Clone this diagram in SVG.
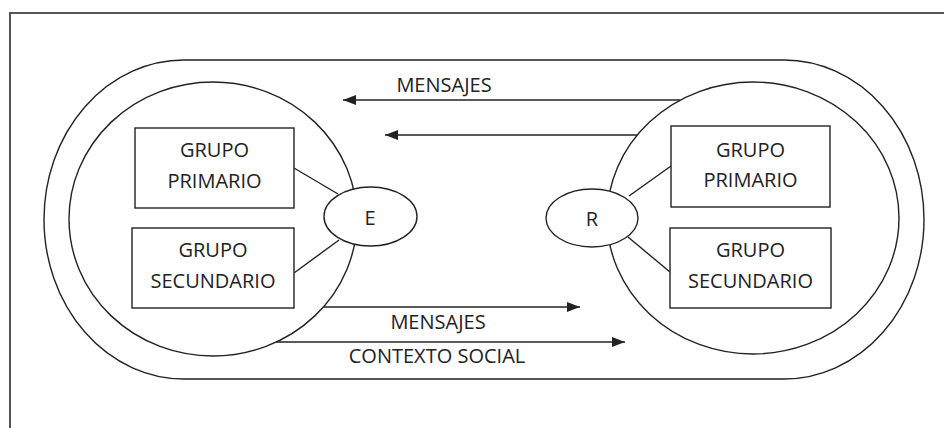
<svg xmlns="http://www.w3.org/2000/svg" width="944" height="428" viewBox="0 0 944 428">
<defs>
<style>
.ln{fill:none;stroke:#222;stroke-width:1.4}
.nd{fill:#fff;stroke:#222;stroke-width:1.4}
.tx{font-family:"Open Sans","Liberation Sans",sans-serif;font-size:20px;fill:#222;text-anchor:middle}
</style>
<marker id="ah" viewBox="0 0 13 10" refX="13" refY="5" markerWidth="13" markerHeight="10" markerUnits="userSpaceOnUse" orient="auto">
<path d="M0,0 L13,5 L0,10 Z" fill="#222"/>
</marker>
</defs>
<rect width="944" height="428" fill="#fff"/>
<path d="M10,428 V13 H944" fill="none" stroke="#555" stroke-width="2"/>
<g id="contexto">
<rect class="ln" x="44" y="60" width="880" height="319" rx="140" ry="159.5"/>
</g>
<g id="emisor-grupo">
<ellipse class="ln" cx="213" cy="219" rx="144" ry="137"/>
</g>
<g id="receptor-grupo">
<ellipse class="ln" cx="753" cy="218" rx="146" ry="136"/>
</g>
<g id="connectors">
<line class="ln" x1="294" y1="168" x2="338" y2="194"/>
<line class="ln" x1="294" y1="273" x2="339" y2="240"/>
<line class="ln" x1="671" y1="166" x2="629" y2="196"/>
<line class="ln" x1="628" y1="237" x2="670" y2="272"/>
<line class="ln" x1="680" y1="100" x2="343" y2="100" marker-end="url(#ah)"/>
<line class="ln" x1="637" y1="135" x2="385" y2="135" marker-end="url(#ah)"/>
<line class="ln" x1="324" y1="307" x2="580" y2="307" marker-end="url(#ah)"/>
<line class="ln" x1="276" y1="342" x2="625" y2="342" marker-end="url(#ah)"/>
</g>
<g id="E">
<ellipse class="nd" cx="370.5" cy="216.5" rx="46.5" ry="29.5"/>
<text class="tx" x="370" y="225">E</text>
</g>
<g id="R">
<ellipse class="nd" cx="592" cy="218" rx="46" ry="29"/>
<text class="tx" x="592" y="226">R</text>
</g>
<g id="e-primario">
<rect class="nd" x="135" y="128" width="159" height="80"/>
<text class="tx" x="214.5" y="157">GRUPO</text>
<text class="tx" x="214.5" y="188">PRIMARIO</text>
</g>
<g id="e-secundario">
<rect class="nd" x="132" y="228" width="162" height="80"/>
<text class="tx" x="213" y="257">GRUPO</text>
<text class="tx" x="213" y="288">SECUNDARIO</text>
</g>
<g id="r-primario">
<rect class="nd" x="671" y="126" width="159" height="81"/>
<text class="tx" x="750.5" y="157">GRUPO</text>
<text class="tx" x="750.5" y="187">PRIMARIO</text>
</g>
<g id="r-secundario">
<rect class="nd" x="670" y="228" width="161" height="80"/>
<text class="tx" x="750.5" y="257">GRUPO</text>
<text class="tx" x="750.5" y="288">SECUNDARIO</text>
</g>
<g id="labels">
<text class="tx" x="444" y="92">MENSAJES</text>
<text class="tx" x="438" y="329">MENSAJES</text>
<text class="tx" x="437" y="363">CONTEXTO SOCIAL</text>
</g>
</svg>
